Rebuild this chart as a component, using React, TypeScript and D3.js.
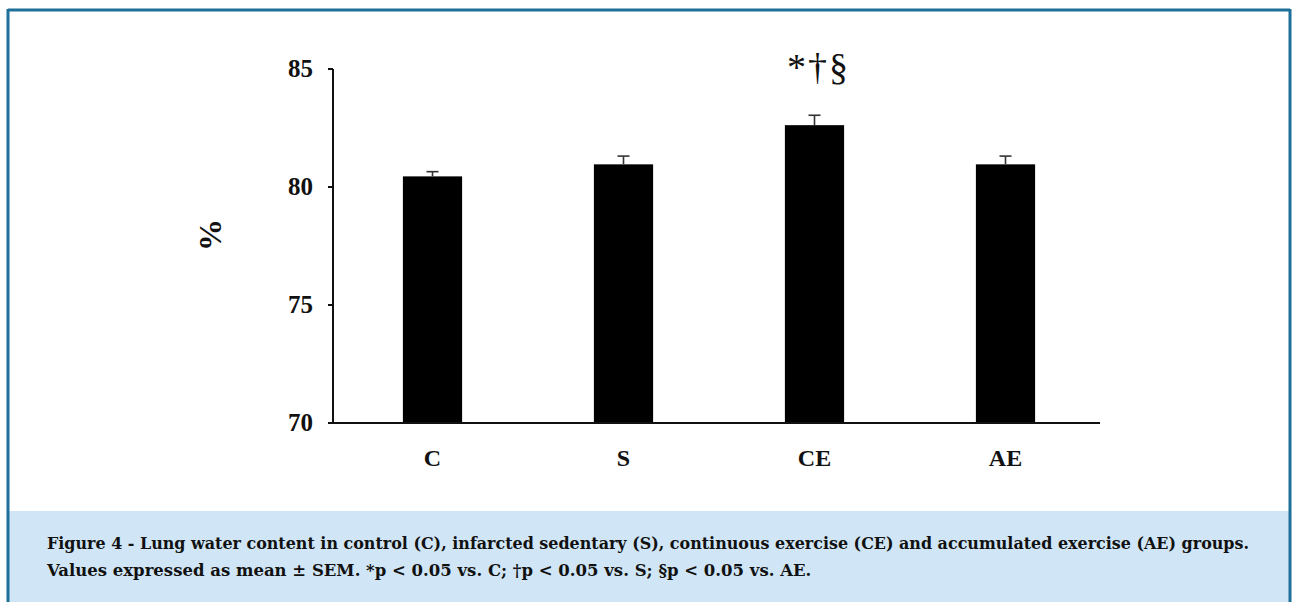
import React from "react";
import * as d3 from "d3";

const categories = ["C", "S", "CE", "AE"];
const means = [80.45, 80.96, 82.62, 80.96];
const sems = [0.2, 0.35, 0.42, 0.35];
const yTicks = [70, 75, 80, 85];
const annotations = ["", "", "*†§", ""];
const captionLines = [
  "Figure 4 - Lung water content in control (C), infarcted sedentary (S), continuous exercise (CE) and accumulated exercise (AE) groups.",
  "Values expressed as mean ± SEM. *p < 0.05 vs. C; †p < 0.05 vs. S; §p < 0.05 vs. AE.",
];

const W = 1295;
const H = 602;
const serif = "'Liberation Serif', 'Times New Roman', serif";
const capFont = "'DejaVu Serif', serif";

export default function App() {
  const x0 = 333;
  const x1 = 1100;
  const y = d3.scaleLinear().domain([70, 85]).range([423, 69]);
  const x = d3
    .scaleBand<string>()
    .domain(categories)
    .range([337, 1101])
    .paddingInner(0.69)
    .paddingOuter(0.345);
  const bw = x.bandwidth();
  const border = "#1f6f9b";

  return (
    <svg
      width={W}
      height={H}
      style={{ position: "absolute", left: 0, top: 0, background: "#fff" }}
    >
      {/* caption background */}
      <rect x={8} y={511} width={1282} height={H - 511} fill="#d0e6f6" />
      {/* frame */}
      <line x1={8} y1={10} x2={1290} y2={10} stroke={border} strokeWidth={3} />
      <line x1={8} y1={9} x2={8} y2={H} stroke={border} strokeWidth={3} />
      <line x1={1290} y1={9} x2={1290} y2={H} stroke={border} strokeWidth={3} />

      {/* bars */}
      {categories.map((c, i) => {
        const bx = x(c)!;
        const cx = bx + bw / 2;
        const top = y(means[i]);
        const etop = y(means[i] + sems[i]);
        return (
          <g key={c}>
            <rect x={bx} y={top} width={bw} height={y(70) - top} fill="#000" />
            <line x1={cx} x2={cx} y1={top} y2={etop} stroke="#333" strokeWidth={1.6} />
            <line x1={cx - 6} x2={cx + 6} y1={etop} y2={etop} stroke="#333" strokeWidth={1.6} />
            {annotations[i] && (
              <text
                x={cx + 4}
                y={80}
                textAnchor="middle"
                fontFamily={serif}
                fontSize={38}
                letterSpacing={2}
                fill="#111"
              >
                {annotations[i]}
              </text>
            )}
            <text
              x={cx}
              y={466}
              textAnchor="middle"
              fontFamily={serif}
              fontWeight="bold"
              fontSize={24}
              fill="#111"
            >
              {c}
            </text>
          </g>
        );
      })}

      {/* axes */}
      <line x1={x0} x2={x0} y1={y(85)} y2={y(70) + 1} stroke="#111" strokeWidth={2} />
      <line x1={x0 - 4} x2={x1} y1={y(70)} y2={y(70)} stroke="#111" strokeWidth={2} />
      {yTicks.map((t) => (
        <g key={t}>
          <line x1={x0 - 5} x2={x0} y1={y(t)} y2={y(t)} stroke="#111" strokeWidth={2} />
          <text
            x={313}
            y={y(t) + 8}
            textAnchor="end"
            fontFamily={serif}
            fontWeight="bold"
            fontSize={25}
            fill="#111"
          >
            {t}
          </text>
        </g>
      ))}
      <text
        transform={`translate(221,235) rotate(-90)`}
        textAnchor="middle"
        fontFamily={serif}
        fontWeight="bold"
        fontSize={32}
        fill="#111"
      >
        %
      </text>

      {/* caption */}
      <text
        x={47}
        y={549}
        fontFamily={capFont}
        fontWeight="bold"
        fontSize={16.5}
        textLength={1202}
        lengthAdjust="spacingAndGlyphs"
        fill="#111"
      >
        {captionLines[0]}
      </text>
      <text
        x={47}
        y={576}
        fontFamily={capFont}
        fontWeight="bold"
        fontSize={16.5}
        fill="#111"
      >
        {captionLines[1]}
      </text>
    </svg>
  );
}
